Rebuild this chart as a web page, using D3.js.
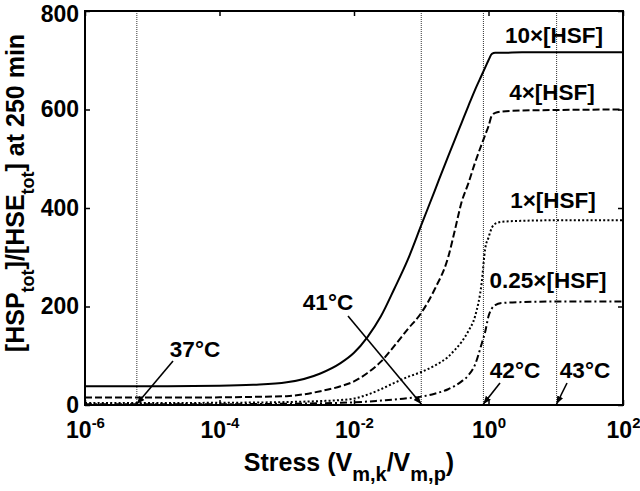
<!DOCTYPE html>
<html>
<head>
<meta charset="utf-8">
<script src="https://cdn.jsdelivr.net/npm/d3@7"></script>
<style>
  html, body { margin: 0; padding: 0; background: #fff; }
  svg { display: block; }
  text { font-family: "Liberation Sans", Arial, Helvetica, sans-serif; font-weight: bold; fill: #000; }
</style>
</head>
<body>
<svg id="chart" width="640" height="491"></svg>
<script>
// ---------- data ----------
const stressExp = [-6,-5,-4,-3.5,-3,-2.5,-2.2,-2,-1.8,-1.6,-1.4,-1.2,-1,-0.8,-0.6,-0.5,-0.4,-0.3,-0.2,-0.1,-0.05,0,0.05,0.1,0.2,0.5,1,2];
const hsf10  = [38,38,39,41,46,64,85,106,138,180,236,295,365,435,505,539,573,607,640,670,685,700,713,715,715,716,716,716];
const hsf4   = [15,15,15.5,16.5,18,28,38,48,65,88,120,154,187,235,300,355,412,450,492,530,548,566,588,593,596,598,599,600];
const hsf1   = [4,4,4.5,5,6,8,10,13,21,32,45,57,67,80,98,112,128,150,180,250,317,340,360,368,372,374,375,375];
const hsf025 = [1.5,1.5,1.5,2,2.5,3.5,4.5,5.5,7,9,11,14,17,23,32,39,48,60,82,125,148,180,196,203,207,209,210,210];
const seriesNames = ["10×[HSF]", "4×[HSF]", "1×[HSF]", "0.25×[HSF]"];
const tempStress = [5.9e-6, 0.1, 0.84, 10.3];
const tempLabels = ["37°C", "41°C", "42°C", "43°C"];
const xTickExps = [-6, -4, -2, 0, 2];
const yTicks = [0, 200, 400, 600, 800];

// ---------- layout ----------
const W = 640, H = 491;
const m = {left: 85, right: 17, top: 11, bottom: 86};
const iw = W - m.left - m.right, ih = H - m.top - m.bottom;

const svg = d3.select("#chart");
const g = svg.append("g").attr("transform", `translate(${m.left},${m.top})`);

const x = d3.scaleLog().domain([1e-6, 1e2]).range([0, iw]);
const y = d3.scaleLinear().domain([0, 800]).range([ih, 0]);

// vertical temperature lines
g.selectAll("line.temp").data(tempStress).enter().append("line")
  .attr("class", "temp")
  .attr("x1", d => x(d)).attr("x2", d => x(d))
  .attr("y1", 0).attr("y2", ih)
  .attr("stroke", "#333").attr("stroke-width", 1)
  .attr("stroke-dasharray", "1,1");

// curves
const dashes = [null, "7,3", "2,2.2", "7,3,2,3"];
const allSeries = [hsf10, hsf4, hsf1, hsf025];
const line = d3.line()
  .x((d, i) => x(Math.pow(10, stressExp[i])))
  .y(d => y(d))
  .curve(d3.curveMonotoneX);

g.selectAll("path.curve").data(allSeries).enter().append("path")
  .attr("class", "curve")
  .attr("d", d => line(d))
  .attr("fill", "none")
  .attr("stroke", "#000")
  .attr("stroke-width", 2)
  .attr("stroke-dasharray", (d, i) => dashes[i]);

// axes
const fsTick = 23;
const xAxis = d3.axisBottom(x).tickValues(xTickExps.map(e => Math.pow(10, e)))
  .tickSizeInner(-5).tickSizeOuter(0).tickPadding(17).tickFormat("");
const xAxisTop = d3.axisTop(x).tickValues(xTickExps.map(e => Math.pow(10, e)))
  .tickSizeInner(-5).tickSizeOuter(0).tickFormat("");
const yAxis = d3.axisLeft(y).tickValues(yTicks)
  .tickSizeInner(-5).tickSizeOuter(0).tickPadding(6);
const yAxisRight = d3.axisRight(y).tickValues(yTicks)
  .tickSizeInner(-5).tickSizeOuter(0).tickFormat("");

const gx = g.append("g").attr("transform", `translate(0,${ih})`).call(xAxis);
g.append("g").call(xAxisTop);
const gy = g.append("g").call(yAxis);
g.append("g").attr("transform", `translate(${iw},0)`).call(yAxisRight);

g.selectAll(".domain").remove();
g.selectAll(".tick line").attr("stroke", "#000").attr("stroke-width", 1.5);
gy.selectAll(".tick text").style("font-size", fsTick + "px").style("font-family", null)
  .attr("dy", d => d === 800 ? "0.46em" : "0.32em");

// x tick labels with superscripts
gx.selectAll(".tick").each(function(d, i) {
  const t = d3.select(this).select("text")
    .attr("y", 33).attr("dy", null)
    .style("font-size", fsTick + "px").style("font-family", null);
  t.text(null);
  t.append("tspan").text("10");
  t.append("tspan").attr("dy", -10).style("font-size", "15px").text(String(xTickExps[i]));
});

// frame
g.append("rect").attr("x", 0).attr("y", 0).attr("width", iw).attr("height", ih)
  .attr("fill", "none").attr("stroke", "#000").attr("stroke-width", 2);

// series labels
const labelPos = [[554, 43], [552, 100], [553, 208], [548, 288]];
svg.selectAll("text.series").data(seriesNames).enter().append("text")
  .attr("class", "series")
  .attr("x", (d, i) => labelPos[i][0]).attr("y", (d, i) => labelPos[i][1])
  .attr("text-anchor", "middle")
  .style("font-size", "22.5px")
  .text(d => d);

// temperature annotations with arrows
svg.append("defs").append("marker")
  .attr("id", "arrow").attr("viewBox", "0 0 10 10")
  .attr("refX", 10).attr("refY", 5)
  .attr("markerWidth", 8).attr("markerHeight", 8)
  .attr("markerUnits", "userSpaceOnUse")
  .attr("orient", "auto")
  .append("path").attr("d", "M0,1 L10,5 L0,9 Z").attr("fill", "#000");

const tempText = [[195, 357], [328, 310], [515, 378], [585, 378]];
const arrowFrom = [[173, 361], [348, 316], [500, 383], [567, 383]];
svg.selectAll("text.temp").data(tempLabels).enter().append("text")
  .attr("class", "temp")
  .attr("x", (d, i) => tempText[i][0]).attr("y", (d, i) => tempText[i][1])
  .attr("text-anchor", "middle")
  .style("font-size", "22.5px")
  .text(d => d);

svg.selectAll("line.arrow").data(tempStress).enter().append("line")
  .attr("class", "arrow")
  .attr("x1", (d, i) => arrowFrom[i][0]).attr("y1", (d, i) => arrowFrom[i][1])
  .attr("x2", d => m.left + x(d)).attr("y2", m.top + ih - 1)
  .attr("stroke", "#000").attr("stroke-width", 1.6)
  .attr("marker-end", "url(#arrow)");

// axis titles
const xt = svg.append("text")
  .attr("x", 349).attr("y", 471)
  .attr("text-anchor", "middle")
  .style("font-size", "25px");
xt.append("tspan").text("Stress (V");
xt.append("tspan").attr("dy", 10).style("font-size", "20px").text("m,k");
xt.append("tspan").attr("dy", -10).text("/V");
xt.append("tspan").attr("dy", 10).style("font-size", "20px").text("m,p");
xt.append("tspan").attr("dy", -10).text(")");

const yt = svg.append("text")
  .attr("transform", "translate(24,193) rotate(-90)")
  .attr("text-anchor", "middle")
  .style("font-size", "25px");
yt.append("tspan").text("[HSP");
yt.append("tspan").attr("dy", 10).style("font-size", "18px").text("tot");
yt.append("tspan").attr("dy", -10).text("]/[HSE");
yt.append("tspan").attr("dy", 10).style("font-size", "18px").text("tot");
yt.append("tspan").attr("dy", -10).text("] at 250 min");
</script>
</body>
</html>
